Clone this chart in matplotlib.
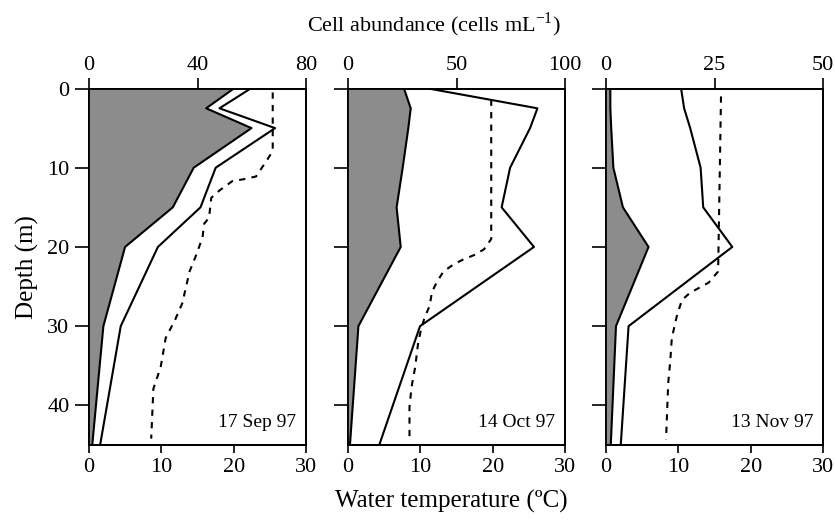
import matplotlib
matplotlib.use('Agg')
import matplotlib.pyplot as plt

plt.rcParams['font.family'] = ['Liberation Serif', 'DejaVu Serif']
plt.rcParams['mathtext.fontset'] = 'custom'
plt.rcParams['mathtext.rm'] = 'Liberation Serif'

# Sampling depths (m)
depth = [0, 2.5, 5, 10, 15, 20, 30, 45]

# 17 Sep 97
sep_shade = [53.4, 43.2, 59.9, 38.6, 30.9, 13.3, 5.3, 1.2]
sep_total = [59.6, 48.1, 68.6, 46.7, 41.1, 25.4, 11.7, 4.1]
sep_temp_depth = [0.5, 7.9, 8.9, 11.1, 11.4, 11.7, 12.9, 13.8, 16.3, 17.1,
                  18.8, 21.3, 23.1, 27.1, 29.2, 31.5, 35.2, 37.9, 44.2]
sep_temp = [25.4, 25.4, 24.7, 23.1, 21.7, 19.8, 18.0, 16.9, 16.6, 15.9,
            15.7, 14.7, 13.9, 12.9, 11.9, 10.6, 9.9, 8.9, 8.6]

# 14 Oct 97
oct_shade = [25.8, 28.9, 27.8, 25.2, 22.4, 24.3, 4.8, 0.9]
oct_total = [37.0, 87.3, 83.9, 74.7, 70.8, 85.7, 33.2, 14.4]
oct_temp_depth = [1.4, 19.0, 20.3, 21.0, 21.6, 22.2, 23.1, 24.4, 25.7, 27.4,
                  28.9, 30.4, 32.1, 35.1, 37.6, 40.2, 44.4]
oct_temp = [19.8, 19.8, 18.8, 17.5, 15.9, 14.6, 13.2, 12.3, 11.6, 11.3,
            10.6, 10.1, 9.7, 9.3, 8.8, 8.5, 8.5]

# 13 Nov 97
nov_shade = [1.0, 1.0, 1.2, 1.7, 3.9, 9.8, 2.3, 1.1]
nov_total = [17.3, 18.0, 19.4, 21.8, 22.4, 29.1, 5.2, 3.4]
nov_temp_depth = [1.0, 23.1, 24.5, 25.8, 26.7, 28.7, 31.5, 34.2, 37.2, 44.3]
nov_temp = [15.9, 15.5, 14.2, 11.6, 10.5, 9.8, 9.1, 8.9, 8.6, 8.3]

dates = ['17 Sep 97', '14 Oct 97', '13 Nov 97']
top_max = [80, 100, 50]
top_ticks = [[0, 40, 80], [0, 50, 100], [0, 25, 50]]
shades = [sep_shade, oct_shade, nov_shade]
totals = [sep_total, oct_total, nov_total]
temp_depths = [sep_temp_depth, oct_temp_depth, nov_temp_depth]
temps = [sep_temp, oct_temp, nov_temp]

fig = plt.figure(figsize=(8.35, 5.2), dpi=100)
lefts = [89 / 835, 348 / 835, 606 / 835]
bottom = 1 - 445 / 520
height = 356.5 / 520
width = 217 / 835

for i in range(3):
    ax = fig.add_axes([lefts[i], bottom, width, height])
    top = ax.twiny()

    top.fill_betweenx(depth, 0, shades[i], facecolor='#8c8c8c',
                      edgecolor='none', zorder=1)
    top.plot(shades[i], depth, color='black', lw=1.5, zorder=2)
    top.plot(totals[i], depth, color='black', lw=1.5, zorder=2)
    ax.plot(temps[i], temp_depths[i], color='black', lw=1.5,
            dashes=(3, 3))

    ax.set_xlim(0, 30)
    ax.set_ylim(45, 0)
    top.set_xlim(0, top_max[i])
    ax.set_xticks([0, 10, 20, 30])
    ax.set_yticks([0, 10, 20, 30, 40])
    top.set_xticks(top_ticks[i])

    ax.tick_params(axis='x', direction='out', length=6, width=1.2,
                   labelsize=16, pad=3)
    ax.tick_params(axis='y', direction='out', length=10, width=1.2,
                   labelsize=16, pad=4, labelleft=(i == 0))
    top.tick_params(axis='x', direction='out', length=8, width=1.2,
                    labelsize=16, pad=2)
    for sp in list(ax.spines.values()) + list(top.spines.values()):
        sp.set_linewidth(1.3)

    ax.text(0.955, 0.04, dates[i], transform=ax.transAxes, ha='right',
            va='bottom', fontsize=14)

    if i == 0:
        ax.set_ylabel('Depth (m)', fontsize=18, labelpad=6)

fig.text(0.52, 0.952, 'Cell abundance (cells mL$^{\\mathregular{-1}}$)',
         ha='center', va='center', fontsize=16)
fig.text(0.54, 0.035, 'Water temperature (ºC)', ha='center', va='center',
         fontsize=18)

fig.savefig('out.png', dpi=100)
